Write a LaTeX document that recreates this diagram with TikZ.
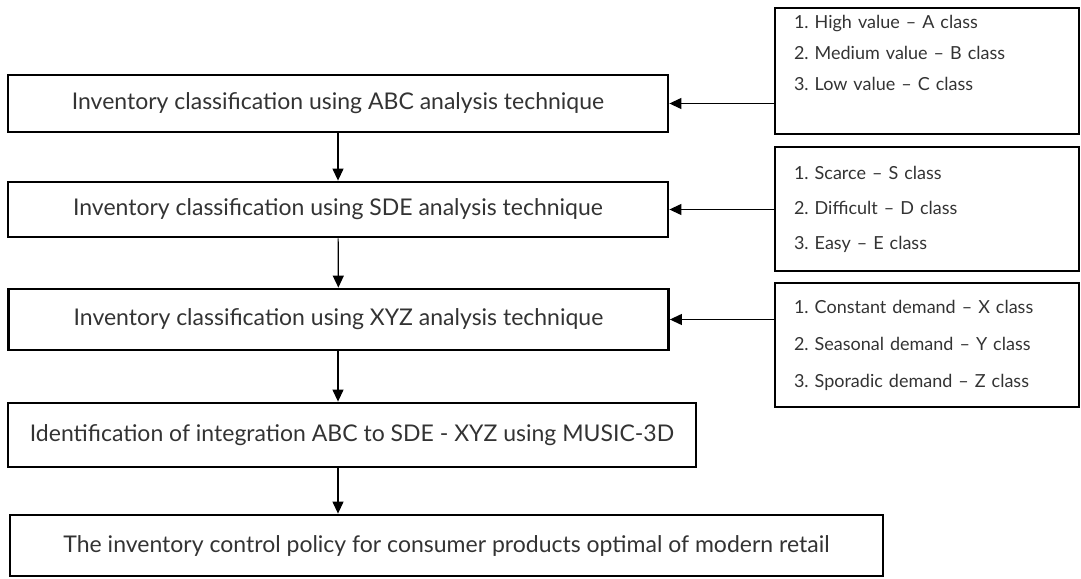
\documentclass[tikz,border=0pt]{standalone}
\usepackage{fontspec}
\newfontfamily\boxfont{Lato}
\frenchspacing
\usetikzlibrary{arrows.meta, positioning}
% Stili delle scatole e delle frecce
\tikzset{
    stepbox/.style  = {draw, line width = 2.8bp, minimum width = 660bp, inner sep = 0pt,
                       text = black!80, font = {\boxfont\fontsize{23bp}{27bp}\selectfont}},
    classbox/.style = {draw, line width = 2.8bp, text width = 266bp, inner xsep = 19bp, inner ysep = 0pt,
                       align = left, text = black!80},
    flow/.style     = {line width = 1.2bp, -{Triangle[length = 12bp, width = 11bp]}}
}

\begin{document}
\begin{tikzpicture}[x = 1bp, y = -1bp]
    \useasboundingbox (0,0) rectangle (1081,579);
    % Fasi della classificazione
    \node[stepbox, minimum height = 57bp] (abc) at (338,103.5)
        {Inventory classification using ABC analysis technique};
    \node[stepbox, minimum height = 55bp] (sde) at (338,209.5)
        {Inventory classification using SDE analysis technique};
    \node[stepbox, minimum height = 61bp] (xyz) at (338.5,319.5)
        {Inventory classification using XYZ analysis technique};
    \node[stepbox, minimum width = 688bp, minimum height = 64bp] (music) at (352,435)
        {Identification of integration ABC to SDE - XYZ using MUSIC-3D};
    \node[stepbox, minimum width = 873bp, minimum height = 61bp] (policy) at (446.5,545.5)
        {The inventory control policy for consumer products optimal of modern retail};
    % Classi a destra
    \node[classbox, minimum height = 126bp, font = {\boxfont\fontsize{18bp}{31bp}\selectfont}] (abccls) at (927,71)
        {1. High value – A class\\2. Medium value – B class\\3. Low value – C class\\[5bp]\mbox{}};
    \node[classbox, minimum height = 124bp, font = {\boxfont\fontsize{18bp}{35bp}\selectfont}] (sdecls) at (927,209)
        {1. Scarce – S class\\2. Difficult – D class\\3. Easy – E class};
    \node[classbox, minimum height = 124bp, font = {\boxfont\fontsize{18bp}{37bp}\selectfont}] (xyzcls) at (927,345)
        {1. Constant demand – X class\\2. Seasonal demand – Y class\\3. Sporadic demand – Z class};
    % Frecce verticali
    \draw[flow] (abc) -- (sde);
    \draw[flow] (sde) -- (xyz);
    \draw[flow] (xyz.south -| abc.south) -- (music.north -| abc.south);
    \draw[flow] (music.south -| abc.south) -- (policy.north -| abc.south);
    % Frecce orizzontali
    \draw[flow] (abccls.west |- abc.east) -- (abc.east);
    \draw[flow] (sdecls.west |- sde.east) -- (sde.east);
    \draw[flow] (xyzcls.west |- xyz.east) -- (xyz.east);
\end{tikzpicture}
\end{document}
